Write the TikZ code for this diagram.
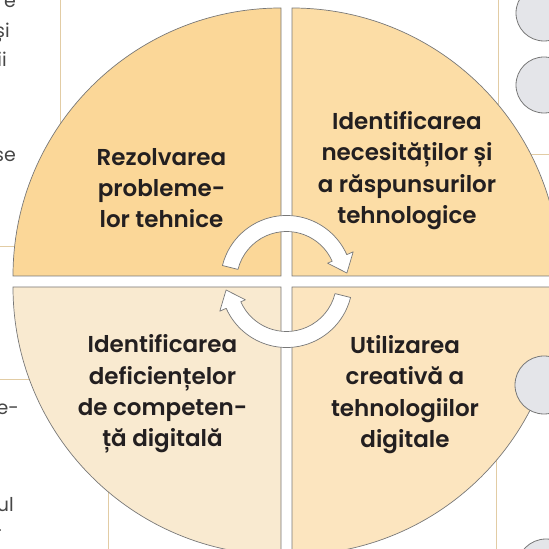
\documentclass[tikz,border=0pt]{standalone}
\usepackage{tikz}
\usepackage{xcolor}
\usepackage{fontspec}
\newfontfamily\quadfont{Poppins}[UprightFont=* SemiBold]
\newfontfamily\pagefont{Poppins}

\definecolor{quadA}{RGB}{251,215,152}
\definecolor{quadB}{RGB}{252,221,166}
\definecolor{quadC}{RGB}{249,234,208}
\definecolor{quadD}{RGB}{252,229,191}
\definecolor{rimgray}{RGB}{120,120,120}
\definecolor{dotgray}{RGB}{228,229,233}
\definecolor{pagetan}{RGB}{226,204,164}
\definecolor{inkdark}{RGB}{35,31,32}
\definecolor{pagegray}{RGB}{70,70,70}

\begin{document}
\begin{tikzpicture}[x=1pt,y=1pt,
	quarter/.style={draw=rimgray,line width=0.7pt},
	cyclearrow/.style={fill=white,draw=rimgray,line width=0.7pt,line join=round},
	pageline/.style={draw=pagetan,line width=1pt},
	greydot/.style={fill=dotgray,draw=rimgray,line width=0.8pt},
	quadtext/.style={align=center,text=inkdark,font=\quadfont\fontsize{23}{31.3}\selectfont},
	margintext/.style={anchor=base east,text=pagegray,inner sep=0pt,font=\pagefont\fontsize{19}{24}\selectfont}]
	\useasboundingbox (0,0) rectangle (549,549);
	\clip (0,0) rectangle (549,549);
	
	\draw[pageline] (60,549) -- (60,302) -- (0,302);
	\draw[pageline] (0,169) -- (108,169) -- (108,0);
	\draw[pageline] (498,549) -- (498,394) -- (549,394);
	\draw[pageline] (496,150) -- (496,0);
	
	\node[margintext] (fragA) at (16,541) {e};
	\node[margintext] (fragB) at (10,511) {și};
	\node[margintext] (fragC) at (7,482) {ii};
	\node[margintext] (fragD) at (16,387) {se};
	\node[margintext] (fragE) at (19,134) {e-};
	\node[margintext] (fragF) at (14,37) {ul};
	\node[margintext] (fragG) at (3,11) {-};
	
	\filldraw[quarter,fill=quadA] (281,273) -- (13,273) arc (180:90:268) -- cycle;
	\filldraw[quarter,fill=quadB] (292,273) -- (292,541) arc (90:0:268) -- cycle;
	\filldraw[quarter,fill=quadC] (281,262) -- (13,262) arc (180:270:268) -- cycle;
	\filldraw[quarter,fill=quadD] (292,262) -- (560,262) arc (0:-90:268) -- cycle;
	
	\begin{scope}[shift={(286.5,267.5)}]
		\filldraw[cyclearrow] (166:66) arc (166:24:66) -- (24:73) -- (8:61) -- (24:45) -- (24:50) arc (24:166:50) -- cycle;
		\filldraw[cyclearrow,rotate=180] (166:66) arc (166:24:66) -- (24:73) -- (8:61) -- (24:45) -- (24:50) arc (24:166:50) -- cycle;
	\end{scope}
	
	\filldraw[greydot] (544,536) circle (28);
	\filldraw[greydot] (544,464) circle (28);
	\filldraw[greydot] (544,164) circle (29);
	\filldraw[greydot] (546,-19) circle (29);
	
	\node[quadtext] (rezolvare) at (161.5,361) {Rezolvarea\\probleme-\\lor tehnice};
	\node[quadtext] (necesitati) at (407,378.5) {Identificarea\\necesităților și\\a răspunsurilor\\tehnologice};
	\node[quadtext] (deficiente) at (162.5,155) {Identificarea\\deficiențelor\\de competen-\\ță digitală};
	\node[quadtext] (utilizare) at (405,154.5) {Utilizarea\\creativă a\\tehnologiilor\\digitale};
	
\end{tikzpicture}
\end{document}
